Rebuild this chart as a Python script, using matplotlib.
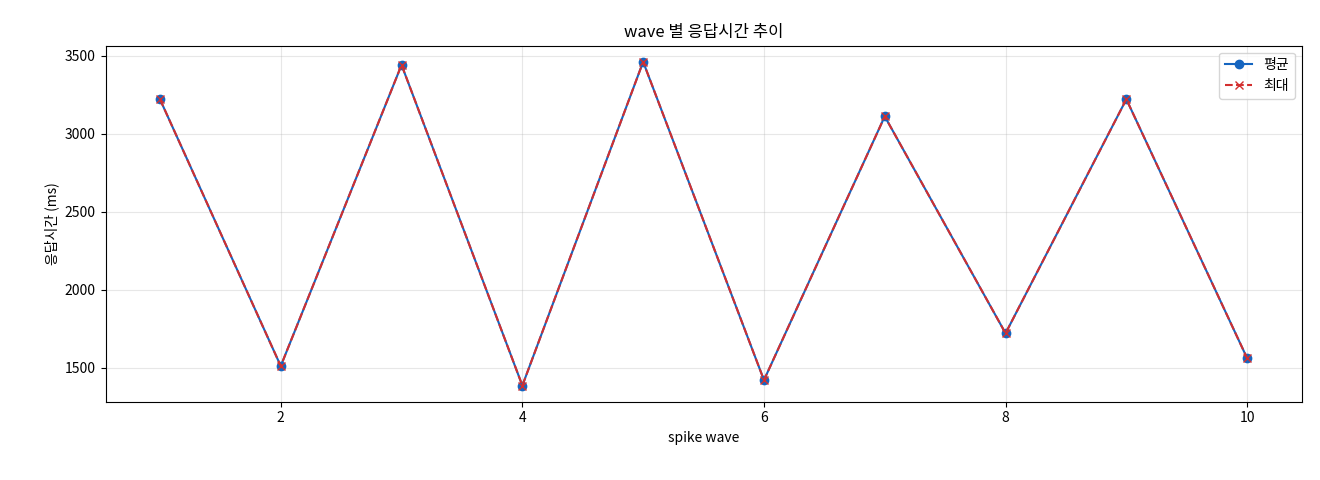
import matplotlib
matplotlib.use("Agg")
import matplotlib.pyplot as plt

plt.rcParams['font.family'] = ['Noto Sans CJK KR', 'DejaVu Sans']
plt.rcParams['axes.unicode_minus'] = False

waves = [1, 2, 3, 4, 5, 6, 7, 8, 9, 10]
avg_ms = [3220, 1510, 3440, 1385, 3460, 1420, 3110, 1720, 3220, 1560]
max_ms = [3220, 1510, 3440, 1385, 3460, 1420, 3110, 1720, 3220, 1560]

fig, ax = plt.subplots(figsize=(13.2, 4.8), dpi=100)
fig.subplots_adjust(left=0.08, right=0.986, top=0.905, bottom=0.163)

ax.plot(waves, avg_ms, marker='o', color='#1565c0', label='평균')
ax.plot(waves, max_ms, marker='x', linestyle='--', color='#d32f2f', label='최대')

ax.set_title('wave 별 응답시간 추이')
ax.set_xlabel('spike wave')
ax.set_ylabel('응답시간 (ms)')
ax.grid(True, alpha=0.3)
ax.legend(loc='upper right')

fig.savefig('out.png')
